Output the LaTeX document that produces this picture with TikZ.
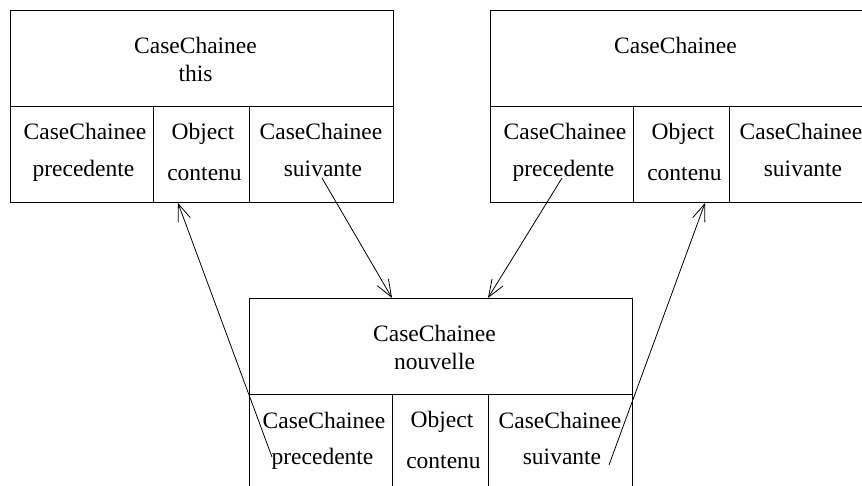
\documentclass[tikz,border=0pt]{standalone}
\usepackage{fontspec}
\setmainfont{Liberation Serif}
\usetikzlibrary{arrows.meta}

\tikzset{
  part/.style={draw, line width=1pt, inner sep=0pt, anchor=north west},
  word/.style={anchor=base, inner sep=0pt, font=\fontsize{23.5}{28}\selectfont},
  link/.style={line width=0.8pt, -{Straight Barb[length=17pt,width=13pt]}},
}

% One record of the linked list: a title area above three fields
\newcommand\caserec[3]{%
  \begin{scope}[shift={(#2,#3)}]
    \node[part, minimum width=383pt, minimum height=96pt] (#1head) at (0,0) {};
    \node[part, minimum width=143pt, minimum height=96pt] (#1prec) at (0,96) {};
    \node[part, minimum width=96pt,  minimum height=96pt] (#1obj)  at (143,96) {};
    \node[part, minimum width=144pt, minimum height=96pt] (#1suiv) at (239,96) {};
    \node[word] (#1type) at (185.5,43.3) {CaseChainee};
    \node[word] (#1precT) at (75,130) {CaseChainee};
    \node[word] (#1precN) at (73.5,166.7) {precedente};
    \node[word] (#1objT)  at (193,129.3) {Object};
    \node[word] (#1objN)  at (194.5,170.5) {contenu};
    \node[word] (#1suivT) at (311,130) {CaseChainee};
    \node[word] (#1suivN) at (313,166.7) {suivante};
  \end{scope}}

\begin{document}
\begin{tikzpicture}[x=1pt,y=-1pt]
  \useasboundingbox (0,0) rectangle (862,486);
  \fill[white] (0,0) rectangle (862,486);
  \clip (0,0) rectangle (862,486);

  \caserec{this}{10}{10}
  \node[word] (thisvar) at (195.5,81.7) {this};

  \caserec{next}{490}{10}

  \caserec{new}{249}{298}
  \node[word] (newvar) at (434.5,369.7) {nouvelle};

  % references into and out of the new record
  \coordinate (thisSuivFrom) at (322,178);
  \coordinate (nextPrecFrom) at (562,178);
  \coordinate (newPrecFrom)  at (272,457);
  \coordinate (newSuivFrom)  at (609,465);

  \draw[link] (thisSuivFrom) -- (newobj.north west |- newhead.north);
  \draw[link] (nextPrecFrom) -- (newsuiv.north west |- newhead.north);
  \draw[link] (newPrecFrom) -- ([xshift=25pt]thisobj.south west);
  \draw[link] (newSuivFrom) -- ([xshift=72pt]nextobj.south west);
\end{tikzpicture}
\end{document}
